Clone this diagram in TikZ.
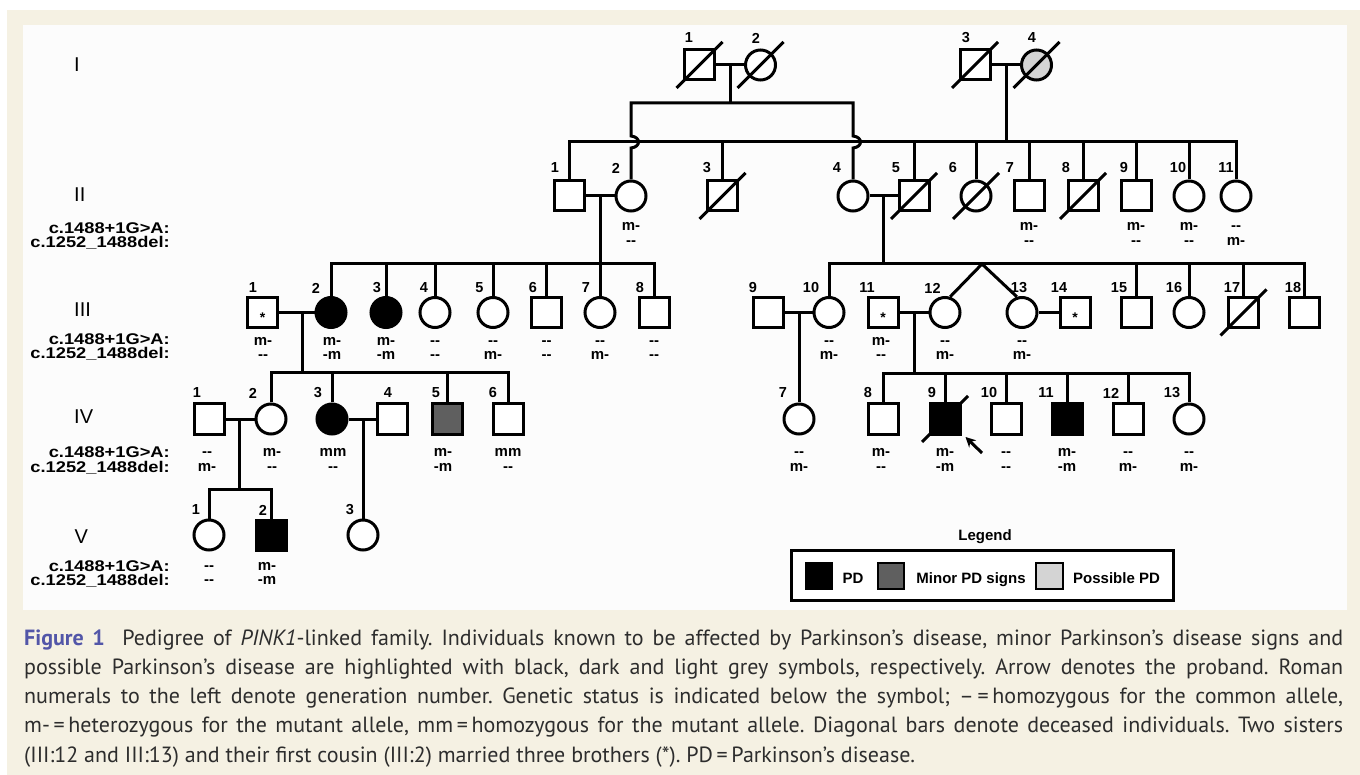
\documentclass[tikz,border=0pt]{standalone}
\usepackage{fontspec}
\setmainfont{Liberation Sans}
\newfontfamily\capfont{PT Sans}
\newfontfamily\lblfont[FakeStretch=1.18]{Liberation Sans}
\usetikzlibrary{arrows.meta}
\definecolor{beige}{RGB}{245,241,227}
\definecolor{panel}{RGB}{252,252,252}
\definecolor{dgray}{RGB}{95,95,95}
\definecolor{lgray}{RGB}{212,212,212}
\definecolor{figblue}{RGB}{82,86,168}
\definecolor{captext}{RGB}{45,45,45}
\newcommand{\dd}{-{}-}
\newcommand{\gtII}[4]{\node[geno] (#1a) at (#2,231) {#3}; \node[geno] (#1b) at (#2,246) {#4};}
\newcommand{\gtIII}[4]{\node[geno] (#1a) at (#2,346) {#3}; \node[geno] (#1b) at (#2,360) {#4};}
\newcommand{\gtIV}[4]{\node[geno] (#1a) at (#2,456) {#3}; \node[geno] (#1b) at (#2,471) {#4};}
\newcommand{\gtV}[4]{\node[geno] (#1a) at (#2,570) {#3}; \node[geno] (#1b) at (#2,584) {#4};}
\newcommand{\dslash}[1]{\draw[ped] (#1.center) +(-23,23) -- +(23,-23);}
\begin{document}
\begin{tikzpicture}[x=1pt,y=-1pt,
  ped/.style={line width=3pt},
  sq/.style={draw, rectangle, minimum size=30pt, inner sep=0pt, line width=3pt, fill=white},
  ci/.style={draw, circle, minimum size=30pt, inner sep=0pt, line width=3pt, fill=white},
  num/.style={font=\bfseries\fontsize{14.5}{14.5}\selectfont, inner sep=0pt},
  geno/.style={font=\bfseries\fontsize{15}{15}\selectfont, inner sep=0pt, anchor=base},
  gen/.style={font=\fontsize{20}{20}\selectfont, inner sep=0pt, anchor=base west},
  lbl/.style={font=\lblfont\bfseries\fontsize{15.5}{15.5}\selectfont, inner sep=0pt, anchor=base east},
  starmark/.style={font=\bfseries\fontsize{14}{14}\selectfont, inner sep=0pt},
  lsq/.style={draw, rectangle, minimum size=26.5pt, inner sep=0pt, line width=2.4pt},
  legtxt/.style={font=\bfseries\fontsize{15}{15}\selectfont, inner sep=0pt, anchor=base},
]
\useasboundingbox (0,0) rectangle (1360,775);
\fill[white] (0,0) rectangle (1360,775);
\fill[beige] (7,10) rectangle (1360,775);
\fill[panel] (23,25) rectangle (1347,610);

% ---------- generation labels ----------
\node[gen] (GI) at (74,72) {I};
\node[gen] (GII) at (74,202) {II};
\node[gen] (GIII) at (74,317) {III};
\node[gen] (GIV) at (74,423) {IV};
\node[gen] (GV) at (74.5,543) {V};
\node[lbl] (LIIa) at (170,234) {c.1488+1G>A:};
\node[lbl] (LIIb) at (170,248) {c.1252\_1488del:};
\node[lbl] (LIIIa) at (170,345) {c.1488+1G>A:};
\node[lbl] (LIIIb) at (170,359) {c.1252\_1488del:};
\node[lbl] (LIVa) at (170,457) {c.1488+1G>A:};
\node[lbl] (LIVb) at (170,472) {c.1252\_1488del:};
\node[lbl] (LVa) at (170,571) {c.1488+1G>A:};
\node[lbl] (LVb) at (170,585) {c.1252\_1488del:};

% ---------- symbols ----------
% I
\node[sq] (I1) at (699.5,65) {};
\node[ci] (I2) at (760.5,65) {};
\node[sq] (I3) at (975,65) {};
\node[ci, fill=lgray] (I4) at (1036.5,65) {};
% II
\node[sq] (II1) at (569.5,196) {};
\node[ci] (II2) at (631,196) {};
\node[sq] (II3) at (722.5,196) {};
\node[ci] (II4) at (853,196) {};
\node[sq] (II5) at (914,196) {};
\node[ci] (II6) at (976,196) {};
\node[sq] (II7) at (1029,196) {};
\node[sq] (II8) at (1083,196) {};
\node[sq] (II9) at (1136,196) {};
\node[ci] (II10) at (1189,196) {};
\node[ci] (II11) at (1236,196) {};
% III
\node[sq] (III1) at (262.5,312.5) {};
\node[ci, fill=black] (III2) at (331,312.5) {};
\node[ci, fill=black] (III3) at (386,312.5) {};
\node[ci] (III4) at (435,312.5) {};
\node[ci] (III5) at (493,312.5) {};
\node[sq] (III6) at (546.5,312.5) {};
\node[ci] (III7) at (600,312.5) {};
\node[sq] (III8) at (654,312.5) {};
\node[sq] (III9) at (768.5,312.5) {};
\node[ci] (III10) at (829,312.5) {};
\node[sq] (III11) at (883,312.5) {};
\node[ci] (III12) at (945,312.5) {};
\node[ci] (III13) at (1022,312.5) {};
\node[sq] (III14) at (1075,312.5) {};
\node[sq] (III15) at (1136,312.5) {};
\node[ci] (III16) at (1189,312.5) {};
\node[sq] (III17) at (1243.5,312.5) {};
\node[sq] (III18) at (1304.5,312.5) {};
% IV
\node[sq] (IV1) at (209.5,419) {};
\node[ci] (IV2) at (271,419) {};
\node[ci, fill=black] (IV3) at (332,419) {};
\node[sq] (IV4) at (392,419) {};
\node[sq, fill=dgray] (IV5) at (447,419) {};
\node[sq] (IV6) at (508,419) {};
\node[ci] (IV7) at (799,419) {};
\node[sq] (IV8) at (883,419) {};
\node[sq, fill=black] (IV9) at (945,419) {};
\node[sq] (IV10) at (1006,419) {};
\node[sq, fill=black] (IV11) at (1067,419) {};
\node[sq] (IV12) at (1128,419) {};
\node[ci] (IV13) at (1189,419) {};
% V
\node[ci] (V1) at (209,535) {};
\node[sq, fill=black] (V2) at (271,535) {};
\node[ci] (V3) at (363,535) {};

% stars (married-in brothers)
\node[starmark] (stIII1) at (262.5,318) {*};
\node[starmark] (stIII11) at (883,318) {*};
\node[starmark] (stIII14) at (1075,318) {*};

% ---------- deceased ----------
\dslash{I1}\dslash{I2}\dslash{I3}\dslash{I4}
\dslash{II3}\dslash{II5}\dslash{II6}\dslash{II8}
\dslash{III17}\dslash{IV9}

% ---------- junction coordinates ----------
\coordinate (dI12) at (730,65);
\coordinate (sI12) at (730,103);
\coordinate (dI34) at (1006,65);
\coordinate (sII) at (1006,142);
\coordinate (dII12) at (600,196);
\coordinate (sIIIa) at (600,264);
\coordinate (dII45) at (883,196);
\coordinate (sIIIb) at (883,264);
\coordinate (tw) at (982,264);
\coordinate (dIII12) at (302,312.5);
\coordinate (sIVa) at (302,373);
\coordinate (dIII910) at (799,312.5);
\coordinate (dIII1112) at (914,312.5);
\coordinate (sIVb) at (914,374);
\coordinate (dIV12) at (239,419);
\coordinate (sV) at (239,489);
\coordinate (dIV34) at (363,419);

% ---------- marriages ----------
\draw[ped] (I1) -- (I2);
\draw[ped] (I3) -- (I4);
\draw[ped] (II1) -- (II2);
\draw[ped] (II4) -- (II5);
\draw[ped] (III1) -- (III2);
\draw[ped] (III9) -- (III10);
\draw[ped] (III11) -- (III12);
\draw[ped] (III13) -- (III14);
\draw[ped] (IV1) -- (IV2);
\draw[ped] (IV3) -- (IV4);

% ---------- descent lines ----------
\draw[ped] (dI12) -- (sI12);
\draw[ped] (II2.north) -- (631,148) .. controls (641,147) and (641,137) .. (631,136)
  |- (sI12) -| (853,136) .. controls (863,137) and (863,147) .. (853,148) -- (II4.north);
\draw[ped] (dI34) -- (sII);
\draw[ped] (II1.north) |- (II11.north |- sII) -- (II11.north);
\foreach \n in {II3,II5,II6,II7,II8,II9,II10}
  \draw[ped] (\n.north) -- (\n.north |- sII);
\draw[ped] (dII12) -- (sIIIa);
\draw[ped] (III2.north) |- (III8.north |- sIIIa) -- (III8.north);
\foreach \n in {III3,III4,III5,III6,III7}
  \draw[ped] (\n.north) -- (\n.north |- sIIIa);
\draw[ped] (dII45) -- (sIIIb);
\draw[ped] (III10.north) |- (III18.north |- sIIIb) -- (III18.north);
\foreach \n in {III15,III16,III17}
  \draw[ped] (\n.north) -- (\n.north |- sIIIb);
\draw[ped] (III12.72) -- (tw) -- (III13.108);
\draw[ped] (dIII12) -- (sIVa);
\draw[ped] (IV2.north) |- (IV6.north |- sIVa) -- (IV6.north);
\foreach \n in {IV3,IV5}
  \draw[ped] (\n.north) -- (\n.north |- sIVa);
\draw[ped] (dIII910) -- (IV7.north);
\draw[ped] (dIII1112) -- (sIVb);
\draw[ped] (IV8.north) |- (IV13.north |- sIVb) -- (IV13.north);
\foreach \n in {IV9,IV10,IV11,IV12}
  \draw[ped] (\n.north) -- (\n.north |- sIVb);
\draw[ped] (dIV12) -- (sV);
\draw[ped] (V1.north) |- (V2.north |- sV) -- (V2.north);
\draw[ped] (dIV34) -- (V3.north);

% proband arrow
\coordinate (arT) at (982,453);
\coordinate (arH) at (965.5,437);
\draw[line width=3pt, -{Stealth[length=10pt,width=10pt]}] (arT) -- (arH);

% ---------- individual numbers ----------
\node[num] (nI1) at (689,38) {1};
\node[num] (nI2) at (756,38) {2};
\node[num] (nI3) at (966,38) {3};
\node[num] (nI4) at (1032,38) {4};
\foreach \x/\t in {555/1,616/2,707/3,837/4,896/5,953/6,1010/7,1066/8,1124/9,1178/10,1226/11}
  \node[num] (nII\t) at (\x,168) {\t};
\foreach \x/\t in {253/1,316/2,377/3,424/4,479.5/5,533/6,586/7,640/8,753/9,811/10,867/11,932.5/12,1019/13,1059/14,1119/15,1174/16,1232/17,1293/18}
  \node[num] (nIII\t) at (\x,288) {\t};
\foreach \x/\t in {197/1,253/2,318/3,388/4,436/5,493/6,783/7,868/8,932/9,989/10,1046/11,1111/12,1172/13}
  \node[num] (nIV\t) at (\x,393) {\t};
\foreach \x/\t in {196/1,263/2,350/3}
  \node[num] (nV\t) at (\x,510) {\t};

% ---------- genotypes ----------
\gtII{gII2}{631}{m-}{\dd}
\gtII{gII7}{1029}{m-}{\dd}
\gtII{gII9}{1136}{m-}{\dd}
\gtII{gII10}{1189}{m-}{\dd}
\gtII{gII11}{1236}{\dd}{m-}
\gtIII{gIII1}{263}{m-}{\dd}
\gtIII{gIII2}{332}{m-}{-m}
\gtIII{gIII3}{386}{m-}{-m}
\gtIII{gIII4}{435}{\dd}{\dd}
\gtIII{gIII5}{493}{\dd}{m-}
\gtIII{gIII6}{546.5}{\dd}{\dd}
\gtIII{gIII7}{600}{\dd}{m-}
\gtIII{gIII8}{654}{\dd}{\dd}
\gtIII{gIII10}{829}{\dd}{m-}
\gtIII{gIII11}{881}{m-}{\dd}
\gtIII{gIII12}{945}{\dd}{m-}
\gtIII{gIII13}{1022}{\dd}{m-}
\gtIV{gIV1}{207}{\dd}{m-}
\gtIV{gIV2}{272}{m-}{\dd}
\gtIV{gIV3}{333}{mm}{\dd}
\gtIV{gIV5}{443}{m-}{-m}
\gtIV{gIV6}{508}{mm}{\dd}
\gtIV{gIV7}{799}{\dd}{m-}
\gtIV{gIV8}{881}{m-}{\dd}
\gtIV{gIV9}{945}{m-}{-m}
\gtIV{gIV10}{1006}{\dd}{\dd}
\gtIV{gIV11}{1067}{m-}{-m}
\gtIV{gIV12}{1128}{\dd}{m-}
\gtIV{gIV13}{1189}{\dd}{m-}
\gtV{gV1}{209}{\dd}{\dd}
\gtV{gV2}{267}{m-}{-m}

% ---------- legend ----------
\node[legtxt] (legT) at (985,540) {Legend};
\node[draw, line width=2.6pt, fill=white, minimum width=382.5pt, minimum height=50.5pt, inner sep=0pt] (legB) at (982.5,575.5) {};
\node[lsq, fill=black] (lgA) at (819,576) {};
\node[lsq, fill=dgray] (lgB) at (891,576) {};
\node[lsq, fill=lgray] (lgC) at (1049.5,576) {};
\node[legtxt] (ltA) at (853,583) {PD};
\node[legtxt] (ltB) at (971,583) {Minor PD signs};
\node[legtxt] (ltC) at (1116.5,583) {Possible PD};

% ---------- caption ----------
\node[anchor=north west, inner sep=0pt, text width=1319pt, align=justify,
      font=\capfont\fontsize{22}{29.25}\selectfont\frenchspacing, text=captext] (cap) at (24,624.5)
{\strut{\color{figblue}\bfseries Figure 1}\hspace{0.8em}Pedigree of \textit{PINK1}-linked family. Individuals known to be affected by Parkinson’s disease, minor Parkinson’s disease signs and\linebreak
possible Parkinson’s disease are highlighted with black, dark and light grey symbols, respectively. Arrow denotes the proband. Roman\linebreak
numerals to the left denote generation number. Genetic status is indicated below the symbol; –\,=\,homozygous for the common allele,\linebreak
m-\,=\,heterozygous for the mutant allele, mm\,=\,homozygous for the mutant allele. Diagonal bars denote deceased individuals. Two sisters\linebreak
(III:12 and III:13) and their first cousin (III:2) married three brothers (*). PD\,=\,Parkinson’s disease.};
\end{tikzpicture}
\end{document}
